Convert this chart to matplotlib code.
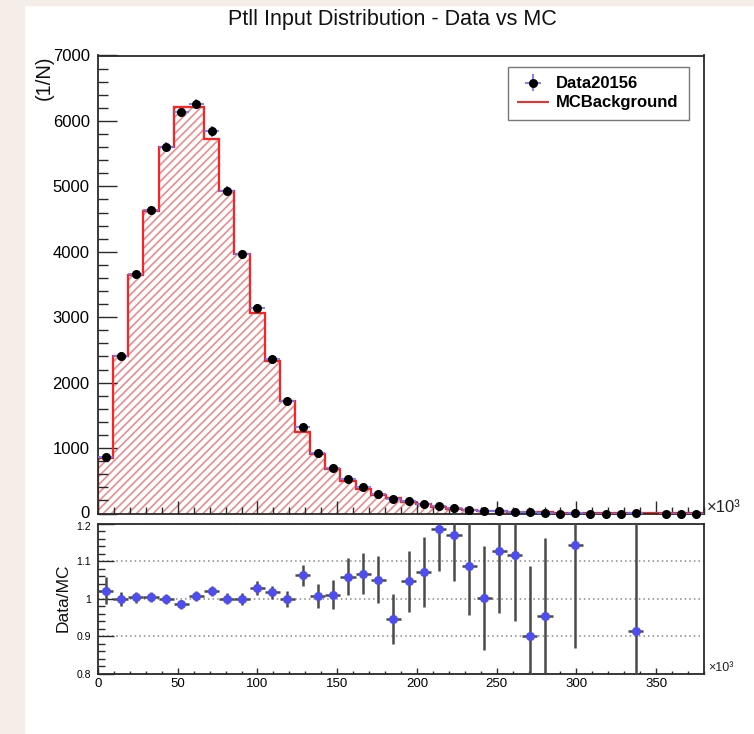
import numpy as np
import matplotlib
matplotlib.use("Agg")
import matplotlib.pyplot as plt
from matplotlib.ticker import MultipleLocator, FixedLocator, FixedFormatter
from matplotlib.lines import Line2D
from matplotlib.patches import Rectangle
from matplotlib.transforms import ScaledTranslation

plt.rcParams['font.family'] = ['Liberation Sans', 'DejaVu Sans']
plt.rcParams['hatch.linewidth'] = 1.2

# ---- data (x in units of 10^3) ----
bin_edges = np.linspace(0, 380, 41)
mc_background = [855, 2400, 3650, 4620, 5600, 6220, 6220, 5725, 4936, 3968,
                 3064, 2336, 1715, 1247, 916, 682, 500, 381, 290, 237,
                 180, 138, 93, 74, 55, 45, 35, 27, 20, 16,
                 12, 10, 8, 6, 5, 4, 3, 3, 2, 2]
data_values = [870, 2400, 3660, 4640, 5600, 6130, 6260, 5840, 4935, 3965,
               3145, 2360, 1715, 1320, 925, 690, 530, 408, 305, 224,
               188, 148, 110, 87, 60, 45, 39, 30, 18, 15,
               0, 11, 0, 0, 0, 4, np.nan, 0, 0, 0]
data_errors = [30, 43, 51, 60, 73, 74, 81, 82, 74, 63,
               57, 40, 36, 37, 30, 26, 25, 22, 19, 15,
               15, 14, 12, 11, 8, 6, 6, 5, 3, 3,
               0, 3, 0, 0, 0, 1.5, np.nan, 0, 0, 0]
ratio_values = [1.021, 0.999, 1.004, 1.005, 1.000, 0.986, 1.007, 1.020, 1.000, 0.999,
                1.028, 1.017, 0.999, 1.062, 1.008, 1.011, 1.059, 1.067, 1.051, 0.946,
                1.046, 1.071, 1.186, 1.170, 1.088, 1.002, 1.126, 1.115, 0.901, 0.955,
                np.nan, 1.143, np.nan, np.nan, np.nan, 0.915, np.nan, np.nan, np.nan, np.nan]
ratio_errors = [0.036, 0.018, 0.015, 0.014, 0.013, 0.012, 0.013, 0.014, 0.015, 0.016,
                0.018, 0.017, 0.021, 0.028, 0.032, 0.038, 0.048, 0.054, 0.062, 0.067,
                0.080, 0.093, 0.113, 0.124, 0.130, 0.139, 0.164, 0.175, 0.185, 0.207,
                np.nan, 0.275, np.nan, np.nan, np.nan, 0.35, np.nan, np.nan, np.nan, np.nan]
y_ticks_top = [0, 1000, 2000, 3000, 4000, 5000, 6000, 7000]
x_ticks = [0, 50, 100, 150, 200, 250, 300, 350]
ratio_ticks = [0.8, 0.9, 1.0, 1.1, 1.2]
ratio_tick_labels = ['0.8', '0.9', '1', '1.1', '1.2']

centers = 0.5 * (bin_edges[:-1] + bin_edges[1:])
half_w = 0.5 * (bin_edges[1] - bin_edges[0])

W, H = 754, 734
fig = plt.figure(figsize=(W / 100, H / 100), dpi=100, facecolor='white')
beige = '#f5eee8'
fig.patches.append(Rectangle((0, 0), 24 / W, 1, transform=fig.transFigure, color=beige, zorder=-10))
fig.patches.append(Rectangle((0, 1 - 5 / H), 1, 5 / H, transform=fig.transFigure, color=beige, zorder=-10))

ax1 = fig.add_axes([98 / W, 1 - 513.5 / H, 606 / W, 458 / H])
ax2 = fig.add_axes([98 / W, 1 - 674 / H, 606 / W, 150.5 / H])

spine_col = '#2a2a2a'
for ax in (ax1, ax2):
    for s in ax.spines.values():
        s.set_color(spine_col)
        s.set_linewidth(1.3)

# ---- top panel ----
ax1.stairs(mc_background, bin_edges, fill=True, facecolor='none', edgecolor='#ec8c8c',
           linewidth=0, hatch='////', zorder=1)
ax1.stairs(mc_background, bin_edges, color='#ff2222', linewidth=1.6, zorder=2)
eb = ax1.errorbar(centers, data_values, xerr=half_w, yerr=data_errors, fmt='o',
                  color='black', markersize=5.5, ecolor='#7474ff', elinewidth=1.3,
                  capsize=0, zorder=3)
eb[0].set_clip_on(False)

ax1.set_xlim(0, 380)
ax1.set_ylim(0, 7000)
ax1.yaxis.set_major_locator(FixedLocator(y_ticks_top))
ax1.yaxis.set_minor_locator(MultipleLocator(200))
ax1.xaxis.set_major_locator(FixedLocator(x_ticks))
ax1.xaxis.set_minor_locator(MultipleLocator(10))
ax1.tick_params(axis='y', which='major', direction='in', length=14, width=1.0,
                color=spine_col, labelsize=12, pad=6)
ax1.tick_params(axis='y', which='minor', direction='in', length=7, width=1.0, color=spine_col)
ax1.tick_params(axis='x', which='major', direction='in', length=9.5, width=1.0,
                color=spine_col, labelbottom=False)
ax1.tick_params(axis='x', which='minor', direction='in', length=5, width=1.0, color=spine_col)
ax1.text(707 / W, 1 - 508 / H, '×10³', transform=fig.transFigure, fontsize=12,
         ha='left', va='center', color='#222222')

mc_handle = Line2D([], [], color='#ff2222', linewidth=1.4)
leg = ax1.legend([eb, mc_handle], ['Data20156', 'MCBackground'],
                 loc='upper left', bbox_to_anchor=(0.677, 0.9755, 0.298, 0.0),
                 mode='expand', borderaxespad=0, fancybox=False, frameon=True,
                 prop={'weight': 'bold', 'size': 12}, handlelength=1.8,
                 handletextpad=0.5, labelspacing=0.24, borderpad=0.58)
leg.get_frame().set_edgecolor('#555555')
leg.get_frame().set_linewidth(1.0)

fig.text(44 / W, 1 - 55 / H, '(1/N)', rotation=90, fontsize=14.5, ha='center', va='top',
         color='#111111')

# ---- ratio panel ----
for yv in ratio_ticks:
    ax2.axhline(yv, color='#888888', linestyle=(0, (1, 2)), linewidth=1.1, zorder=0)
ax2.errorbar(centers, ratio_values, xerr=half_w, yerr=ratio_errors, fmt='o',
             color='#4d4df0', markersize=5.5, ecolor='#4a4a4a', elinewidth=1.8,
             capsize=0, zorder=3)
ax2.set_xlim(0, 380)
ax2.set_ylim(0.8, 1.2)
ax2.yaxis.set_major_locator(FixedLocator(ratio_ticks))
ax2.yaxis.set_major_formatter(FixedFormatter(ratio_tick_labels))
ax2.yaxis.set_minor_locator(MultipleLocator(0.02))
ax2.xaxis.set_major_locator(FixedLocator(x_ticks))
ax2.xaxis.set_minor_locator(MultipleLocator(10))
ax2.tick_params(axis='y', which='major', direction='in', length=11.5, width=1.0,
                color=spine_col, labelsize=7.5, pad=5)
ax2.tick_params(axis='y', which='minor', direction='in', length=5, width=1.0, color=spine_col)
ax2.tick_params(axis='x', which='major', direction='in', length=4.3, width=1.0,
                color=spine_col, labelsize=9.5, pad=3)
ax2.tick_params(axis='x', which='minor', direction='in', length=2.2, width=1.0, color=spine_col)

# small nudges so the "0" (top) and "1.2" (ratio) labels do not collide
top_ticks = ax1.yaxis.get_major_ticks(len(y_ticks_top))
lab0 = top_ticks[0].label1
lab0.set_transform(lab0.get_transform() + ScaledTranslation(0, 2 / 100, fig.dpi_scale_trans))
r_ticks = ax2.yaxis.get_major_ticks(len(ratio_ticks))
lab12 = r_ticks[-1].label1
lab12.set_transform(lab12.get_transform() + ScaledTranslation(0, -2.5 / 100, fig.dpi_scale_trans))

fig.text(63 / W, 1 - 598 / H, 'Data/MC', rotation=90, fontsize=12.5, ha='center',
         va='center', color='#111111')
fig.text(708 / W, 1 - 668 / H, '×10³', fontsize=9, ha='left', va='center', color='#222222')

fig.text(392 / W, 1 - 20 / H, 'Ptll Input Distribution - Data vs MC', fontsize=15.5,
         ha='center', va='center', color='#111111')

fig.savefig('out.png', dpi=100, facecolor='white')
